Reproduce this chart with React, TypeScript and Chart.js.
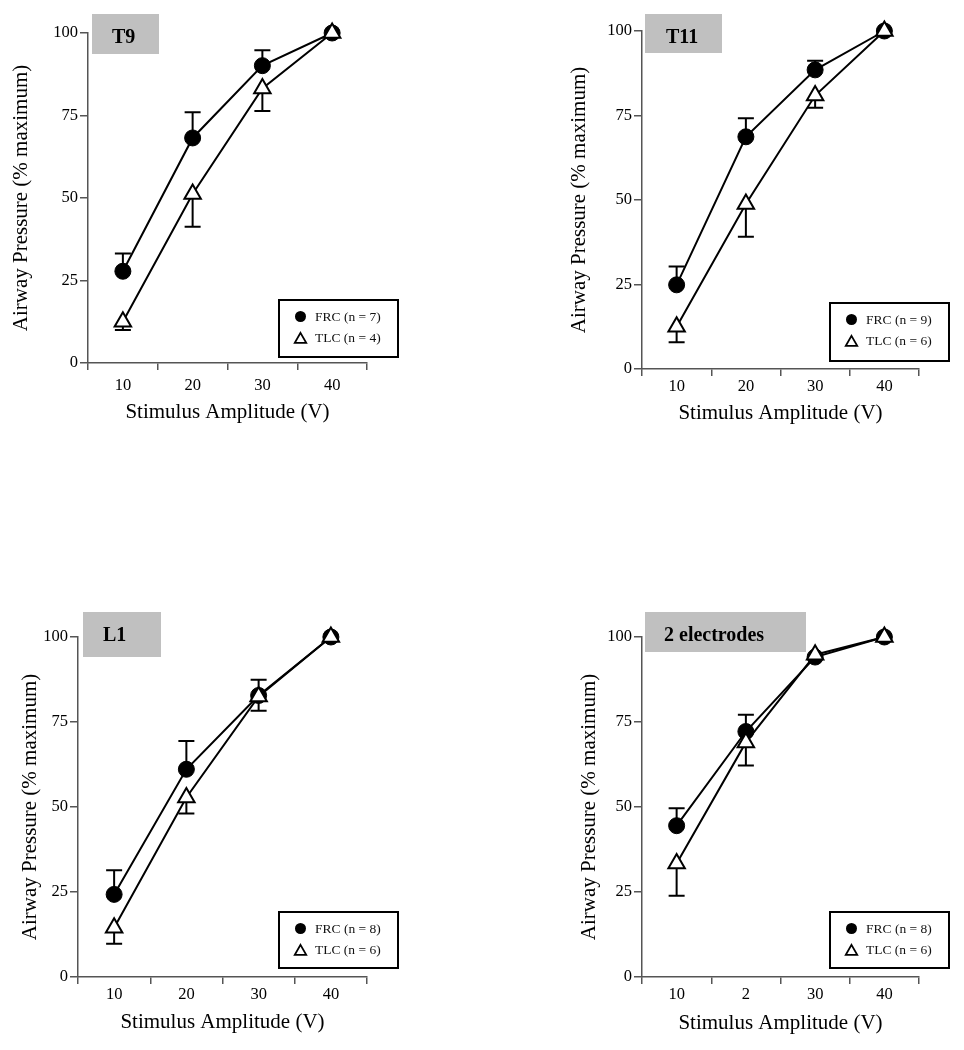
import React, { useEffect, useRef } from "react";
import { Chart, registerables } from "chart.js";

Chart.register(...registerables);

// ---------------- data ----------------
const voltageLabels = ["10", "20", "30", "40"];
const voltageLabelsTwoElectrodes = ["10", "2", "30", "40"];
const yTickValues = [0, 25, 50, 75, 100];

const xAxisTitle = "Stimulus Amplitude (V)";
const yAxisTitle = "Airway Pressure (% maximum)";

const t9Title = "T9";
const t9Legend = ["FRC (n = 7)", "TLC (n = 4)"];
const t9FrcMean = [27.8, 68.2, 90.1, 100];
const t9FrcErr = [5.4, 7.8, 4.7, 0];
const t9TlcMean = [12.5, 51.2, 83.2, 100];
const t9TlcErr = [2.5, 9.9, 6.8, 0];

const t11Title = "T11";
const t11Legend = ["FRC (n = 9)", "TLC (n = 6)"];
const t11FrcMean = [24.9, 68.7, 88.5, 100];
const t11FrcErr = [5.4, 5.5, 2.7, 0];
const t11TlcMean = [12.5, 48.8, 80.9, 100];
const t11TlcErr = [4.6, 9.7, 3.6, 0];

const l1Title = "L1";
const l1Legend = ["FRC (n = 8)", "TLC (n = 6)"];
const l1FrcMean = [24.3, 61.1, 82.8, 100];
const l1FrcErr = [7.1, 8.3, 4.6, 0];
const l1TlcMean = [14.5, 52.8, 82.5, 100];
const l1TlcErr = [4.7, 4.7, 4.2, 0];

const twoTitle = "2 electrodes";
const twoLegend = ["FRC (n = 8)", "TLC (n = 6)"];
const twoFrcMean = [44.5, 72.2, 94.1, 100];
const twoFrcErr = [5.1, 4.9, 0, 0];
const twoTlcMean = [33.4, 69.0, 94.8, 100];
const twoTlcErr = [9.5, 6.8, 0, 0];

// ---------------- layout / style ----------------
const CW = 482;
const CH = 525;
const FONT = '"Liberation Serif", "Times New Roman", serif';
const AXIS_COLOR = "#555555";

type Box = { x: number; y: number; w: number; h: number };
type PanelCfg = {
  key: string;
  title: string;
  labels: string[];
  legend: string[];
  frc: number[];
  frcErr: number[];
  tlc: number[];
  tlcErr: number[];
  canvasLeft: number;
  canvasTop: number;
  area: { left: number; top: number; right: number; bottom: number };
  yTitlePadTop: number;
  xTitlePadBottom: number;
  xTickPad: number;
  titleBox: Box & { textX: number };
  legendBox: Box;
};

const panels: PanelCfg[] = [
  {
    key: "t9",
    title: t9Title,
    labels: voltageLabels,
    legend: t9Legend,
    frc: t9FrcMean,
    frcErr: t9FrcErr,
    tlc: t9TlcMean,
    tlcErr: t9TlcErr,
    canvasLeft: 0,
    canvasTop: 0,
    area: { left: 88, top: 33, right: 367, bottom: 363 },
    yTitlePadTop: 9,
    xTitlePadBottom: 99.5,
    xTickPad: 6,
    titleBox: { x: 92, y: 14, w: 67, h: 40, textX: 112 },
    legendBox: { x: 279, y: 300, w: 119, h: 57 },
  },
  {
    key: "t11",
    title: t11Title,
    labels: voltageLabels,
    legend: t11Legend,
    frc: t11FrcMean,
    frcErr: t11FrcErr,
    tlc: t11TlcMean,
    tlcErr: t11TlcErr,
    canvasLeft: 482,
    canvasTop: 0,
    area: { left: 642, top: 31, right: 919, bottom: 369 },
    yTitlePadTop: 84.7,
    xTitlePadBottom: 98.5,
    xTickPad: 0.5,
    titleBox: { x: 645, y: 14, w: 77, h: 39, textX: 666 },
    legendBox: { x: 830, y: 303, w: 119, h: 58 },
  },
  {
    key: "l1",
    title: l1Title,
    labels: voltageLabels,
    legend: l1Legend,
    frc: l1FrcMean,
    frcErr: l1FrcErr,
    tlc: l1TlcMean,
    tlcErr: l1TlcErr,
    canvasLeft: 0,
    canvasTop: 525,
    area: { left: 78, top: 637, right: 367, bottom: 977 },
    yTitlePadTop: 17.9,
    xTitlePadBottom: 15,
    xTickPad: 0.5,
    titleBox: { x: 83, y: 612, w: 78, h: 45, textX: 103 },
    legendBox: { x: 279, y: 912, w: 119, h: 56 },
  },
  {
    key: "two",
    title: twoTitle,
    labels: voltageLabelsTwoElectrodes,
    legend: twoLegend,
    frc: twoFrcMean,
    frcErr: twoFrcErr,
    tlc: twoTlcMean,
    tlcErr: twoTlcErr,
    canvasLeft: 482,
    canvasTop: 525,
    area: { left: 642, top: 637, right: 919, bottom: 977 },
    yTitlePadTop: 94.4,
    xTitlePadBottom: 14,
    xTickPad: 0.5,
    titleBox: { x: 645, y: 612, w: 161, h: 40, textX: 664 },
    legendBox: { x: 830, y: 912, w: 119, h: 56 },
  },
];

function drawTriangle(ctx: CanvasRenderingContext2D, x: number, y: number, r: number) {
  let rad = 0;
  ctx.beginPath();
  ctx.moveTo(x + Math.sin(rad) * r, y - Math.cos(rad) * r);
  rad += (2 * Math.PI) / 3;
  ctx.lineTo(x + Math.sin(rad) * r, y - Math.cos(rad) * r);
  rad += (2 * Math.PI) / 3;
  ctx.lineTo(x + Math.sin(rad) * r, y - Math.cos(rad) * r);
  ctx.closePath();
}

function buildChart(canvas: HTMLCanvasElement, p: PanelCfg) {
  const cx = p.canvasLeft;
  const cy = p.canvasTop;
  const area = {
    left: p.area.left - cx,
    top: p.area.top - cy,
    right: p.area.right - cx,
    bottom: p.area.bottom - cy,
  };

  const errorBars = {
    id: "errorBars",
    beforeDatasetsDraw(chart: any) {
      const ctx: CanvasRenderingContext2D = chart.ctx;
      const yScale = chart.scales.y;
      ctx.save();
      ctx.strokeStyle = "#000";
      ctx.lineWidth = 2;
      chart.data.datasets.forEach((ds: any, i: number) => {
        const meta = chart.getDatasetMeta(i);
        const errs: number[] = ds.errors || [];
        const dir: number = ds.errorDir || 1;
        meta.data.forEach((pt: any, j: number) => {
          const e = errs[j];
          if (!e) return;
          const v = ds.data[j];
          const x = pt.x;
          const y0 = yScale.getPixelForValue(v);
          const y1 = yScale.getPixelForValue(v + dir * e);
          ctx.beginPath();
          ctx.moveTo(x, y0);
          ctx.lineTo(x, y1);
          ctx.moveTo(x - 8, y1);
          ctx.lineTo(x + 8, y1);
          ctx.stroke();
        });
      });
      ctx.restore();
    },
  };

  const decor = {
    id: "decor",
    afterDraw(chart: any) {
      const ctx: CanvasRenderingContext2D = chart.ctx;
      ctx.save();
      // title box
      const tb = p.titleBox;
      ctx.fillStyle = "#c0c0c0";
      ctx.fillRect(tb.x - cx, tb.y - cy, tb.w, tb.h);
      ctx.fillStyle = "#000";
      ctx.font = `bold 20px ${FONT}`;
      ctx.textAlign = "left";
      ctx.textBaseline = "alphabetic";
      ctx.fillText(p.title, tb.textX - cx, tb.y - cy + 29);

      // legend box
      const lb = p.legendBox;
      const lx = lb.x - cx;
      const ly = lb.y - cy;
      ctx.fillStyle = "#fff";
      ctx.fillRect(lx, ly, lb.w, lb.h);
      ctx.strokeStyle = "#000";
      ctx.lineWidth = 2;
      ctx.strokeRect(lx, ly, lb.w, lb.h);

      const mx = lx + 21.5;
      ctx.fillStyle = "#000";
      ctx.beginPath();
      ctx.arc(mx, ly + 16.5, 5.5, 0, Math.PI * 2);
      ctx.fill();
      drawTriangle(ctx, mx, ly + 39.5, 6.6);
      ctx.fillStyle = "#fff";
      ctx.fill();
      ctx.lineWidth = 1.8;
      ctx.strokeStyle = "#000";
      ctx.stroke();

      ctx.fillStyle = "#111";
      ctx.font = `13.5px ${FONT}`;
      ctx.textBaseline = "middle";
      ctx.textAlign = "left";
      ctx.fillText(p.legend[0], lx + 36, ly + 17.5);
      ctx.fillText(p.legend[1], lx + 36, ly + 38.7);
      ctx.restore();
    },
  };

  return new Chart(canvas, {
    type: "line",
    data: {
      labels: p.labels,
      datasets: [
        {
          label: p.legend[0],
          data: p.frc,
          errors: p.frcErr,
          errorDir: 1,
          borderColor: "#000",
          backgroundColor: "#000",
          borderWidth: 2,
          pointStyle: "circle",
          pointRadius: 8,
          pointHoverRadius: 8,
          pointBackgroundColor: "#000",
          pointBorderColor: "#000",
          pointBorderWidth: 1,
          tension: 0,
          order: 2,
          clip: false,
        } as any,
        {
          label: p.legend[1],
          data: p.tlc,
          errors: p.tlcErr,
          errorDir: -1,
          borderColor: "#000",
          backgroundColor: "#fff",
          borderWidth: 2,
          pointStyle: "triangle",
          pointRadius: 9.5,
          pointHoverRadius: 9.5,
          pointBackgroundColor: "#fff",
          pointBorderColor: "#000",
          pointBorderWidth: 2,
          tension: 0,
          order: 1,
          clip: false,
        } as any,
      ],
    },
    options: {
      responsive: false,
      maintainAspectRatio: false,
      animation: false,
      events: [],
      devicePixelRatio: 1,
      font: { family: FONT },
      layout: {
        padding: { left: 0, top: area.top, right: CW - area.right, bottom: 0 },
      },
      plugins: {
        legend: { display: false },
        tooltip: { enabled: false },
        title: { display: false },
      },
      scales: {
        x: {
          type: "category",
          offset: true,
          grid: {
            offset: true,
            drawOnChartArea: false,
            drawTicks: true,
            tickLength: 7,
            color: AXIS_COLOR,
            lineWidth: 1.5,
          },
          border: { display: true, color: AXIS_COLOR, width: 1.5 },
          ticks: {
            color: "#000",
            font: { family: FONT, size: 16.5 },
            padding: p.xTickPad,
            maxRotation: 0,
            autoSkip: false,
          },
          title: {
            display: true,
            text: xAxisTitle,
            color: "#000",
            font: { family: FONT, size: 21 },
            padding: { top: 0, bottom: p.xTitlePadBottom },
          },
          afterFit: (s: any) => {
            s.height = CH - area.bottom;
          },
        },
        y: {
          type: "linear",
          min: 0,
          max: 100,
          afterBuildTicks: (s: any) => {
            s.ticks = yTickValues.map((v) => ({ value: v }));
          },
          grid: {
            drawOnChartArea: false,
            drawTicks: true,
            tickLength: 8,
            color: AXIS_COLOR,
            lineWidth: 1.5,
          },
          border: { display: true, color: AXIS_COLOR, width: 1.5 },
          ticks: {
            color: "#000",
            font: { family: FONT, size: 16.5 },
            padding: 2,
          },
          title: {
            display: true,
            text: yAxisTitle,
            color: "#000",
            font: { family: FONT, size: 21 },
            padding: { top: p.yTitlePadTop, bottom: 0 },
          },
          afterFit: (s: any) => {
            s.width = area.left;
          },
        },
      },
    } as any,
    plugins: [errorBars, decor],
  });
}

function Panel({ p }: { p: PanelCfg }) {
  const ref = useRef<HTMLCanvasElement>(null);
  useEffect(() => {
    if (!ref.current) return;
    const chart = buildChart(ref.current, p);
    return () => chart.destroy();
  }, [p]);
  return (
    <canvas
      ref={ref}
      width={CW}
      height={CH}
      style={{
        position: "absolute",
        left: p.canvasLeft,
        top: p.canvasTop,
        width: CW,
        height: CH,
      }}
    />
  );
}

export default function App() {
  return (
    <div
      style={{
        position: "absolute",
        left: 0,
        top: 0,
        width: 964,
        height: 1050,
        background: "#fff",
        overflow: "hidden",
      }}
    >
      {panels.map((p) => (
        <Panel key={p.key} p={p} />
      ))}
    </div>
  );
}
